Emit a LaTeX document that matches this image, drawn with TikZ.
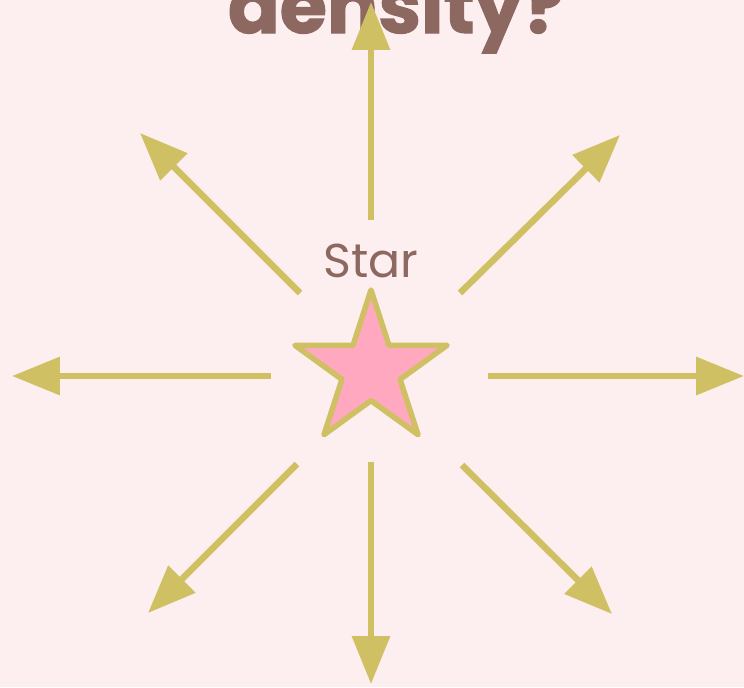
\documentclass[tikz,border=0pt]{standalone}
\usepackage{fontspec}
\setmainfont{Poppins}
\usetikzlibrary{arrows.meta,shapes.geometric}

\definecolor{bgpink}{RGB}{253,238,239}
\definecolor{txtbrown}{RGB}{141,104,96}
\definecolor{arrolive}{RGB}{208,192,100}
\definecolor{starpink}{RGB}{255,168,192}

\tikzset{
  ray/.style={arrolive, line width=0.13cm,
    -{Triangle[length=0.96cm, width=0.74cm]}},
}

\begin{document}
\begin{tikzpicture}[x=0.02cm, y=-0.02cm]

  % canvas
  \clip (0,0) rectangle (744,687);
  \fill[bgpink] (0,0) rectangle (744,687);

  % heading, cut by the top edge
  \node[txtbrown, anchor=base, inner sep=0pt,
    font=\fontsize{43.5}{48}\selectfont\bfseries\addfontfeatures{FakeBold=1.5}]
    (title) at (396,33) {density?};

  % the star and its label
  \node[star, star points=5, star point ratio=2.618, minimum size=3.2cm,
    inner sep=0pt, draw=arrolive, fill=starpink, line width=0.11cm,
    line join=round] (star) at (371,370) {};
  \node[txtbrown, font=\fontsize{27}{30}\selectfont] (lbl) at (371,261) {Star};

  % rays: inner ends and tips
  \coordinate (nS) at (371,220);  \coordinate (nE) at (371,2);
  \coordinate (neS) at (460,293); \coordinate (neE) at (620,135);
  \coordinate (eS) at (488,376);  \coordinate (eE) at (744,376);
  \coordinate (seS) at (462,465); \coordinate (seE) at (612,614);
  \coordinate (sS) at (371,462);  \coordinate (sE) at (371,684);
  \coordinate (swS) at (297,464); \coordinate (swE) at (148,613);
  \coordinate (wS) at (271,376);  \coordinate (wE) at (12,376);
  \coordinate (nwS) at (300,293); \coordinate (nwE) at (140,133);

  \draw[ray] (nS) -- (nE);
  \draw[ray] (neS) -- (neE);
  \draw[ray] (eS) -- (eE);
  \draw[ray] (seS) -- (seE);
  \draw[ray] (sS) -- (sE);
  \draw[ray] (swS) -- (swE);
  \draw[ray] (wS) -- (wE);
  \draw[ray] (nwS) -- (nwE);

\end{tikzpicture}
\end{document}
